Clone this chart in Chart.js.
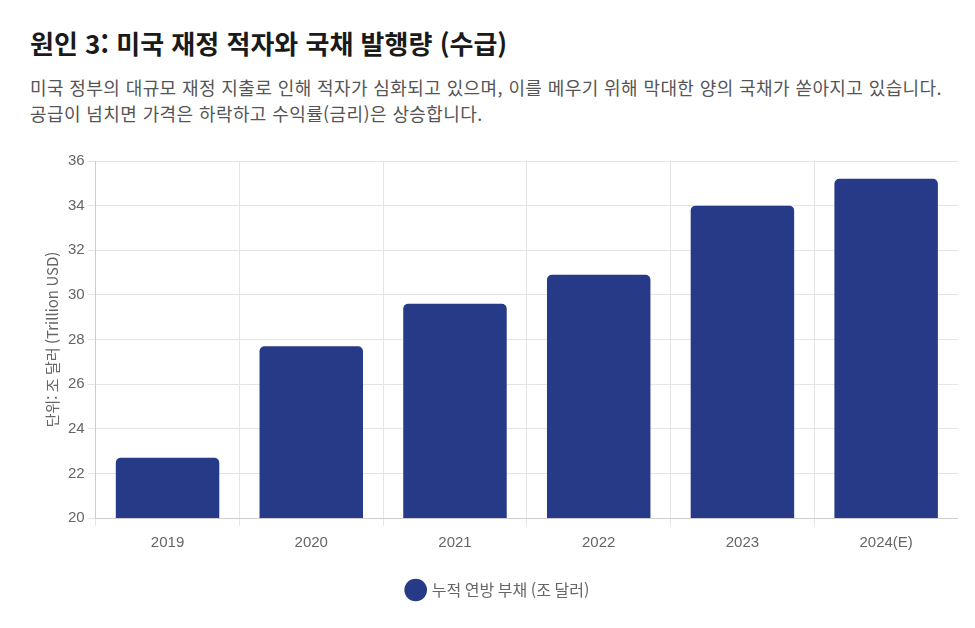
<!DOCTYPE html>
<html lang="ko">
<head>
<meta charset="utf-8">
<script src="https://cdn.jsdelivr.net/npm/chart.js@4.4.0/dist/chart.umd.min.js"></script>
<style>
  body { margin: 0; background: #fff; font-family: "Noto Sans CJK KR", "Noto Sans", sans-serif; }
  .wrap { padding: 20px 17px 0 30px; }
  h2 { margin: 0; font-size: 26px; font-weight: 700; color: #1a1a1a; line-height: 46px; }
  p { margin: 8px 0 0; font-size: 18px; letter-spacing: 0.4px; color: #555; line-height: 26px; }
  .box { position: relative; height: 459px; margin-top: 23px; }
</style>
</head>
<body>
<div class="wrap">
  <h2>원인 3: 미국 재정 적자와 국채 발행량 (수급)</h2>
  <p>미국 정부의 대규모 재정 지출로 인해 적자가 심화되고 있으며, 이를 메우기 위해 막대한 양의 국채가 쏟아지고 있습니다.<br>공급이 넘치면 가격은 하락하고 수익률(금리)은 상승합니다.</p>
  <div class="box"><canvas id="debtChart"></canvas></div>
</div>
<script>
  // 연도별 누적 연방 부채 (조 달러)
  var years = ['2019', '2020', '2021', '2022', '2023', '2024(E)'];
  var debt = [22.7, 27.7, 29.6, 30.9, 34.0, 35.2];
  var seriesName = '누적 연방 부채 (조 달러)';
  var barColor = '#263a88';

  new Chart(document.getElementById('debtChart'), {
    type: 'bar',
    data: {
      labels: years,
      datasets: [{
        label: seriesName,
        data: debt,
        backgroundColor: barColor,
        borderColor: barColor,
        borderRadius: 5,
        borderSkipped: 'bottom'
      }]
    },
    options: {
      responsive: true,
      maintainAspectRatio: false,
      animation: false,
      layout: { padding: { left: 9 } },
      plugins: {
        legend: {
          position: 'bottom',
          labels: {
            usePointStyle: true,
            pointStyle: 'circle',
            color: '#666',
            padding: 22,
            font: { size: 16, family: '"Noto Sans CJK KR", sans-serif' }
          }
        },
        title: { display: false }
      },
      scales: {
        y: {
          min: 20,
          max: 36,
          ticks: { stepSize: 2, color: '#666', font: { size: 15 } },
          grid: { color: '#e5e5e5' },
          title: {
            display: true,
            text: '단위: 조 달러 (Trillion USD)',
            color: '#666',
            font: { size: 15, family: '"Noto Sans CJK KR", sans-serif' }
          }
        },
        x: {
          ticks: { color: '#666', padding: 8, font: { size: 15 } },
          grid: { color: '#e5e5e5' }
        }
      }
    }
  });
</script>
</body>
</html>
